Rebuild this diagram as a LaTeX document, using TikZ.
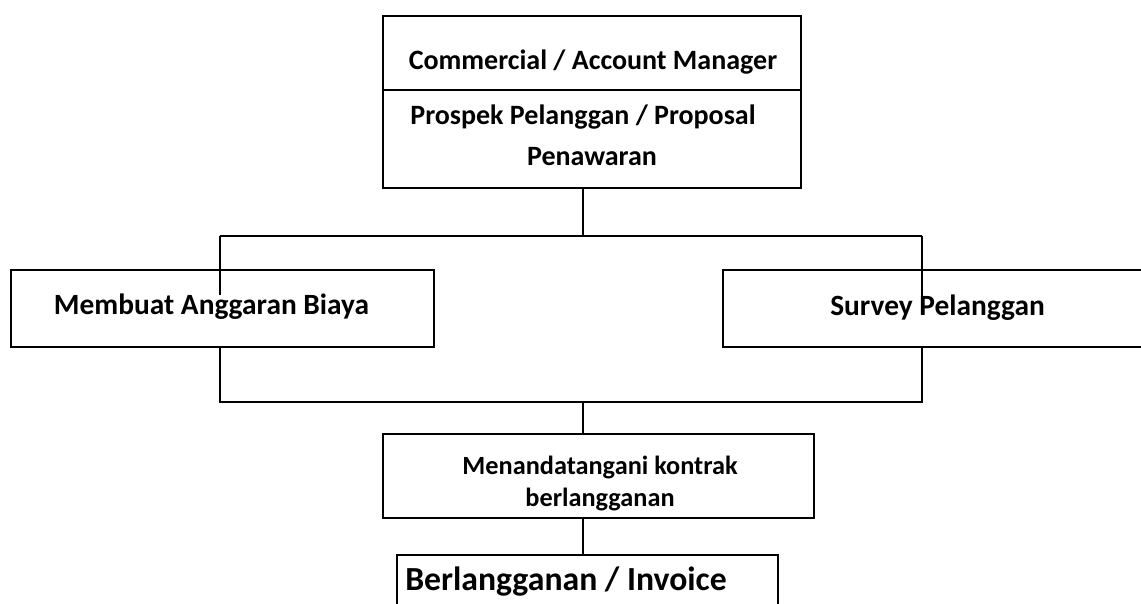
\documentclass[tikz,border=0pt]{standalone}
\usepackage{fontspec}
\setmainfont{Carlito}
\begin{document}
\begin{tikzpicture}[x=1pt,y=-1pt,line width=1.6pt,
  box/.style={draw, rectangle, inner sep=0pt, anchor=north west},
  lbl/.style={inner sep=0pt, anchor=base, font=\bfseries\fontsize{#1}{#1}\selectfont},
  lbl/.default=28]
\useasboundingbox (0,0) rectangle (1141,604);
\clip (0,0) rectangle (1141,604);
% boxes
\node[box, minimum width=418pt, minimum height=172pt] (top) at (382,15) {};
\draw ([yshift=-75pt]top.north west) -- ([yshift=-75pt]top.north east);
\node[box, minimum width=423pt, minimum height=77pt] (lb) at (10,269) {};
\node[box, minimum width=460pt, minimum height=77pt] (rb) at (722,269) {};
\node[box, minimum width=431pt, minimum height=84pt] (mk) at (382,433) {};
\node[box, minimum width=381pt, minimum height=90pt] (bi) at (396,554) {};
% texts
\node[lbl] (t1) at (593,70) {Commercial / Account Manager};
\node[lbl] (t2) at (583,125) {Prospek Pelanggan / Proposal};
\node[lbl] (t3) at (592,166) {Penawaran};
\node[lbl=29.4] (t4) at (211.5,314) {Membuat Anggaran Biaya};
\node[lbl=29.4] (t5) at (937.5,315) {Survey Pelanggan};
\node[lbl=26.3] (t6) at (600,474) {Menandatangani kontrak};
\node[lbl=26.3] (t7) at (600,506) {berlangganan};
\node[lbl=33.7] (t8) at (566,590) {Berlangganan / Invoice};
% connectors
\coordinate (j1) at (583,236);
\coordinate (bl) at (220,236);
\coordinate (br) at (922,236);
\coordinate (le) at (220,295);
\coordinate (re) at (922,300);
\coordinate (bbl) at (220,402);
\coordinate (bbr) at (922,402);
\coordinate (j2) at (583,402);
\draw (top.south -| j1) -- (j1);
\draw (bl) -- (br);
\draw (bl) -- (le);
\draw (br) -- (re);
\draw (lb.south -| bbl) -- (bbl) -- (bbr) -- (rb.south -| bbr);
\draw (j2) -- (mk.north -| j2);
\draw (mk.south -| j2) -- (bi.north -| j2);
\end{tikzpicture}
\end{document}
